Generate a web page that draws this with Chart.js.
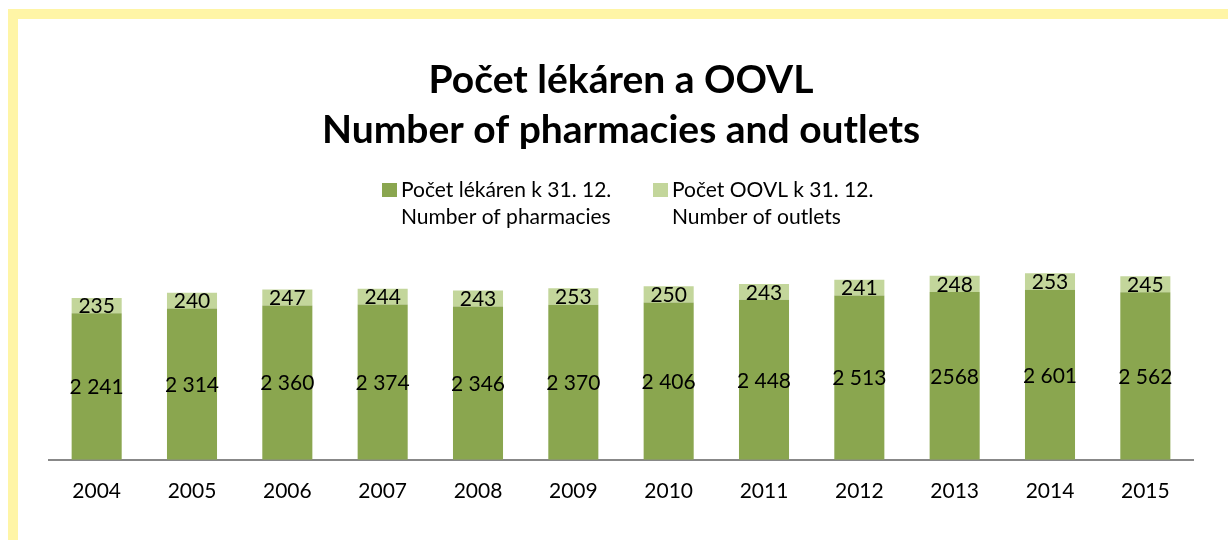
<!DOCTYPE html>
<html>
<head>
<meta charset="utf-8">
<script src="https://cdn.jsdelivr.net/npm/chart.js@4"></script>
<style>
html,body{margin:0;padding:0;background:#fff;}
#wrap{width:1228px;height:540px;position:relative;}
</style>
</head>
<body>
<div id="wrap"><canvas id="c" width="1228" height="540"></canvas></div>
<script>
const years = ['2004','2005','2006','2007','2008','2009','2010','2011','2012','2013','2014','2015'];
const pharmacies = [2241,2314,2360,2374,2346,2370,2406,2448,2513,2568,2601,2562];
const outlets = [235,240,247,244,243,253,250,243,241,248,253,245];
const pharmacyLabels = ['2 241','2 314','2 360','2 374','2 346','2 370','2 406','2 448','2 513','2568','2 601','2 562'];
const outletLabels = ['235','240','247','244','243','253','250','243','241','248','253','245'];
const titleLines = ['Počet lékáren a OOVL','Number of pharmacies and outlets'];
const legendEntries = [
  ['Počet lékáren k 31. 12.','Number of pharmacies'],
  ['Počet OOVL k 31. 12.','Number of outlets']
];

const DARK = '#8AA64F';
const LIGHT = '#C3D69B';
const FONT = 'Lato, "Open Sans", sans-serif';

const frame = {
  id: 'frame',
  beforeDraw(chart) {
    const ctx = chart.ctx;
    ctx.save();
    ctx.fillStyle = '#FFF5A6';
    ctx.fillRect(8, 9, 1220, 10);
    ctx.fillRect(8, 9, 10, 531);
    ctx.restore();
  }
};

const valueLabels = {
  id: 'valueLabels',
  afterDatasetsDraw(chart) {
    const ctx = chart.ctx;
    const texts = [pharmacyLabels, outletLabels];
    ctx.save();
    ctx.font = '21px ' + FONT;
    ctx.fillStyle = '#000';
    ctx.textAlign = 'center';
    ctx.textBaseline = 'middle';
    chart.data.datasets.forEach((ds, di) => {
      const meta = chart.getDatasetMeta(di);
      meta.data.forEach((el, i) => {
        const p = el.getProps(['x','y','base'], true);
        ctx.fillText(texts[di][i], p.x, (p.y + p.base) / 2 + 1);
      });
    });
    ctx.restore();
  }
};

const twoLineLegend = {
  id: 'twoLineLegend',
  afterDraw(chart) {
    const ctx = chart.ctx;
    const colors = [DARK, LIGHT];
    const boxX = [382, 653];
    ctx.save();
    ctx.font = '21px ' + FONT;
    ctx.fillStyle = '#000';
    ctx.textAlign = 'left';
    ctx.textBaseline = 'alphabetic';
    legendEntries.forEach((lines, i) => {
      ctx.fillStyle = colors[i];
      ctx.fillRect(boxX[i], 183, 15, 14);
      ctx.fillStyle = '#000';
      lines.forEach((t, li) => {
        ctx.fillText(t, boxX[i] + 19, 197 + li * 27);
      });
    });
    ctx.restore();
  }
};

new Chart(document.getElementById('c'), {
  type: 'bar',
  data: {
    labels: years,
    datasets: [
      { label: legendEntries[0].join(' '), data: pharmacies, backgroundColor: DARK, borderWidth: 0, barPercentage: 0.525, categoryPercentage: 1 },
      { label: legendEntries[1].join(' '), data: outlets, backgroundColor: LIGHT, borderWidth: 0, barPercentage: 0.525, categoryPercentage: 1 }
    ]
  },
  options: {
    responsive: false,
    animation: false,
    layout: { padding: { left: 49, right: 35, top: 0, bottom: 17 } },
    plugins: {
      legend: { display: false },
      tooltip: { enabled: false },
      title: {
        display: true,
        text: titleLines,
        color: '#000',
        font: { family: FONT, size: 39, weight: 'bold', lineHeight: '50px' },
        padding: { top: 55.5, bottom: 75.5 }
      }
    },
    scales: {
      x: {
        stacked: true,
        grid: { display: false, drawTicks: false },
        border: { display: true, color: '#888888', width: 2 },
        ticks: { color: '#000', font: { family: FONT, size: 21 }, padding: 19 }
      },
      y: {
        stacked: true,
        display: false,
        min: 0,
        max: 3500
      }
    }
  },
  plugins: [frame, valueLabels, twoLineLegend]
});
</script>
</body>
</html>
